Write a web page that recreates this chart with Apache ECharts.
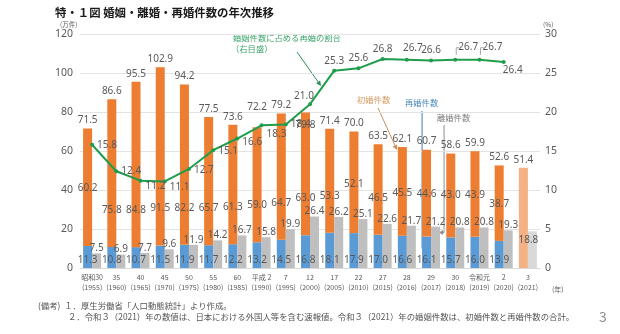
<!DOCTYPE html>
<html>
<head>
<meta charset="utf-8">
<script src="https://cdn.jsdelivr.net/npm/echarts@6/dist/echarts.min.js"></script>
<style>
  html, body { margin: 0; padding: 0; background: #ffffff; }
  #chart { width: 620px; height: 334px; }
</style>
</head>
<body>
<div id="chart"></div>
<script>
// 年次（和暦／西暦）
const yearLabels = [
  '昭和30\n(1955)', '35\n(1960)', '40\n(1965)', '45\n(1970)', '50\n(1975)',
  '55\n(1980)', '60\n(1985)', '平成 2\n(1990)', '7\n(1995)', '12\n(2000)',
  '17\n(2005)', '22\n(2010)', '27\n(2015)', '28\n(2016)', '29\n(2017)',
  '30\n(2018)', '令和元\n(2019)', '2\n(2020)', '3\n(2021)'
];
// 婚姻件数（万件）
const totalMarriages = [71.5, 86.6, 95.5, 102.9, 94.2, 77.5, 73.6, 72.2, 79.2, 79.8,
  71.4, 70.0, 63.5, 62.1, 60.7, 58.6, 59.9, 52.6, 51.4];
// 初婚件数（万件）
const firstMarriages = [60.2, 75.8, 84.8, 91.5, 82.2, 65.7, 61.3, 59.0, 64.7, 63.0,
  53.3, 52.1, 46.5, 45.5, 44.6, 43.0, 43.9, 38.7, null];
// 再婚件数（万件）
const remarriages = [11.3, 10.8, 10.7, 11.5, 11.9, 11.7, 12.2, 13.2, 14.5, 16.8,
  18.1, 17.9, 17.0, 16.6, 16.1, 15.7, 16.0, 13.9, null];
// 離婚件数（万件）
const divorces = [7.5, 6.9, 7.7, 9.6, 11.9, 14.2, 16.7, 15.8, 19.9, 26.4,
  26.2, 25.1, 22.6, 21.7, 21.2, 20.8, 20.8, 19.3, 18.8];
// 婚姻件数に占める再婚の割合（％）
const remarriageShare = [15.8, 12.4, 11.2, 11.1, 12.7, 15.1, 16.6, 18.3, 18.4, 21.0,
  25.3, 25.6, 26.8, 26.7, 26.6, 26.7, 26.7, 26.4, null];
// 目盛
const leftTicks = { min: 0, max: 120, interval: 20 };
const rightTicks = { min: 0, max: 30, interval: 5 };

const FONT = '"Noto Sans CJK JP", "Noto Sans", sans-serif';
const NUMFONT = '"Liberation Sans Narrow", "Noto Sans", sans-serif';
const TXT = '#595959';
const ORANGE = '#ED7D31', ORANGE_LIGHT = '#F4B183';
const BLUE = '#5B9BD5';
const GRAY = '#BFBFBF', GRAY_LIGHT = '#D9D9D9';
const GREEN = '#1F9D4C';
const LAST = yearLabels.length - 1;

const fmt1 = p => Number(p.value).toFixed(1);
const lbl = { color: TXT, fontSize: 10, fontFamily: NUMFONT, formatter: fmt1 };

// 初婚件数ラベルの位置（再婚の上端からの距離）
const firstLabelDist = i => (i === 0 ? 53 : i === 11 ? 44 : (i >= 13 && i <= 16 ? 37 : 32));

// 割合ラベルの配置
const shareLabelPos = [
  ['right', [0, 0]], ['right', [0, 0]], ['right', [0, 6]], ['right', [0, 6]], ['right', [0, 1]],
  ['right', [0, 1]], ['right', [0, 4]], ['right', [0, 9]], ['right', [0, 0]], ['top', [-6, 2]],
  ['top', [0, 0]], ['top', [0, 0]], ['top', [0, 0]], ['top', [6, -2]], ['top', [0, 0]],
  ['top', [13, -3]], ['top', [13, -3]], ['bottom', [9, -2]]
];

const chart = echarts.init(document.getElementById('chart'), null, { renderer: 'canvas' });

const option = {
  backgroundColor: '#ffffff',
  animation: false,
  textStyle: { fontFamily: FONT },
  grid: { left: 80, right: 80, top: 34, bottom: 66 },
  xAxis: {
    type: 'category',
    data: yearLabels,
    axisLine: { show: true, lineStyle: { color: '#D9D9D9' } },
    axisTick: { show: false },
    axisLabel: { color: TXT, fontSize: 7, lineHeight: 10, margin: 4, interval: 0, fontFamily: FONT }
  },
  yAxis: [
    {
      type: 'value', min: leftTicks.min, max: leftTicks.max, interval: leftTicks.interval,
      axisLine: { show: false }, axisTick: { show: false },
      axisLabel: { color: TXT, fontSize: 10.5, margin: 7, fontFamily: NUMFONT },
      splitLine: { lineStyle: { color: '#E3E3E3', width: 1 } }
    },
    {
      type: 'value', min: rightTicks.min, max: rightTicks.max, interval: rightTicks.interval,
      axisLine: { show: false }, axisTick: { show: false },
      axisLabel: { color: TXT, fontSize: 10.5, margin: 5, fontFamily: NUMFONT },
      splitLine: { show: false }
    }
  ],
  series: [
    {
      name: '再婚件数', type: 'bar', stack: 'marriage', barWidth: 9, barGap: '0%',
      itemStyle: { color: BLUE },
      label: Object.assign({ show: true, position: 'insideBottom', distance: 3 }, lbl),
      data: remarriages
    },
    {
      name: '初婚件数', type: 'bar', stack: 'marriage', barWidth: 9, barGap: '0%',
      itemStyle: { color: ORANGE },
      data: firstMarriages.map((v, i) => {
        if (v === null) {
          // 令和３年は初婚・再婚の内訳なし（婚姻件数のみ）
          return { value: totalMarriages[i], itemStyle: { color: ORANGE_LIGHT }, label: { show: false } };
        }
        return {
          value: v,
          label: Object.assign({ show: true, position: 'insideBottom', distance: firstLabelDist(i) }, lbl)
        };
      })
    },
    {
      name: '婚姻件数', type: 'bar', stack: 'marriage', stackStrategy: 'all', barWidth: 9, barGap: '0%',
      itemStyle: { color: 'rgba(0,0,0,0)' },
      silent: true,
      data: totalMarriages.map((t, i) => ({
        value: 0,
        label: Object.assign({}, lbl, {
          show: true,
          position: i === 9 ? 'bottom' : 'top',
          distance: i === 9 ? 8 : (i === 7 ? 15 : 3),
          formatter: () => t.toFixed(1)
        })
      }))
    },
    {
      name: '離婚件数', type: 'bar', barWidth: 9, barGap: '0%',
      itemStyle: { color: GRAY },
      label: Object.assign({ show: true, position: 'top', distance: 0 }, lbl),
      data: divorces.map((v, i) => i === LAST
        ? { value: v, itemStyle: { color: GRAY_LIGHT },
            label: Object.assign({ show: true, position: 'insideTop', distance: 4, offset: [-4, 0] }, lbl) }
        : v)
    },
    {
      name: '婚姻件数に占める再婚の割合', type: 'line', yAxisIndex: 1,
      symbol: 'circle', symbolSize: 4,
      lineStyle: { color: GREEN, width: 2 },
      itemStyle: { color: GREEN },
      z: 5,
      data: remarriageShare.map((v, i) => {
        if (v === null) return null;
        const p = shareLabelPos[i];
        return {
          value: v,
          label: Object.assign({}, lbl, { show: true, position: p[0], offset: p[1], distance: 3 })
        };
      })
    }
  ],
  graphic: []
};

chart.setOption(option);

// 注記・矢印
function arrow(x1, y1, x2, y2, color, head) {
  const a = Math.atan2(y2 - y1, x2 - x1);
  const h = head || 5, w = 2.5;
  const bx = x2 - h * Math.cos(a), by = y2 - h * Math.sin(a);
  return [
    { type: 'line', shape: { x1, y1, x2: bx, y2: by }, style: { stroke: color, lineWidth: 1 } },
    { type: 'polygon', shape: { points: [[x2, y2],
        [bx + w * Math.sin(a), by - w * Math.cos(a)],
        [bx - w * Math.sin(a), by + w * Math.cos(a)]] }, style: { fill: color } }
  ];
}
function text(t, x, y, opts) {
  return {
    type: 'text', x, y,
    style: Object.assign({ text: t, fill: TXT, fontSize: 10, fontFamily: FONT,
      textVerticalAlign: 'middle' }, opts || {})
  };
}

const g = [];
// タイトル
g.push(text('特・１図 婚姻・離婚・再婚件数の年次推移', 55, 13, { fill: '#1a1a1a', fontSize: 11.4, fontWeight: 'bold' }));
// 単位
g.push(text('(万件)', 60, 25, { fontSize: 6.5 }));
g.push(text('(%)', 543, 25, { fontSize: 6.5 }));
g.push(text('(年)', 552, 289, { fontSize: 7 }));

// 割合の注記
g.push(text('婚姻件数に占める再婚の割合', 233, 38, { fill: '#3AA56A', fontSize: 8.3 }));
g.push(text('（右目盛）', 231, 49, { fill: '#3AA56A', fontSize: 8.3 }));
g.push(...arrow(297, 52, 321, 86, '#2E8B57'));

// 初婚件数
g.push(text('初婚件数', 357, 100, { fill: '#D39B62', fontSize: 8.3 }));
g.push(...arrow(378, 108, 397, 150, '#C9905A'));

// 再婚件数・離婚件数の引出線（平成29年の棒を指す）
const p29 = chart.convertToPixel({ xAxisIndex: 0, yAxisIndex: 0 }, [14, remarriages[14] / 2 + 2]);
const p29d = chart.convertToPixel({ xAxisIndex: 0, yAxisIndex: 0 }, [14, divorces[14] - 3]);
const bx = p29[0] - 9, dx = p29[0] + 13;
g.push(text('再婚件数', 405, 103, { fill: '#4A8AB8', fontSize: 8.3 }));
g.push({ type: 'line', shape: { x1: bx, y1: 111, x2: bx, y2: p29[1] }, style: { stroke: '#3F7FAF', lineWidth: 1 } });
g.push(...arrow(bx, p29[1], bx + 6, p29[1], '#3F7FAF', 4));
g.push(text('離婚件数', 437, 118, { fill: '#7F7F7F', fontSize: 8.3 }));
g.push({ type: 'line', shape: { x1: dx, y1: 125, x2: dx, y2: p29d[1] }, style: { stroke: '#8C8C8C', lineWidth: 1 } });
g.push(...arrow(dx, p29d[1], dx - 5, p29d[1], '#8C8C8C', 4));

// 平成30年・令和元年の割合ラベルの引出線
[15, 16].forEach(i => {
  const p = chart.convertToPixel({ xAxisIndex: 0, yAxisIndex: 1 }, [i, remarriageShare[i]]);
  g.push({ type: 'polyline', shape: { points: [[p[0] + 1, p[1] - 5], [p[0] + 1, p[1] - 12], [p[0] + 4, p[1] - 12]] },
    style: { stroke: '#A6A6A6', lineWidth: 1, fill: null } });
});

// 備考
g.push(text('(備考)  １．厚生労働省「人口動態統計」より作成。', 38, 306, { fontSize: 8.4, fill: '#555555' }));
g.push(text('２．令和３（2021）年の数値は、日本における外国人等を含む速報値。令和３（2021）年の婚姻件数は、初婚件数と再婚件数の合計。', 68, 317, { fontSize: 8.4, fill: '#555555' }));
// ページ番号
g.push(text('3', 599, 317, { fontSize: 14, fill: '#8C8C8C' }));

chart.setOption({ graphic: g });
</script>
</body>
</html>
